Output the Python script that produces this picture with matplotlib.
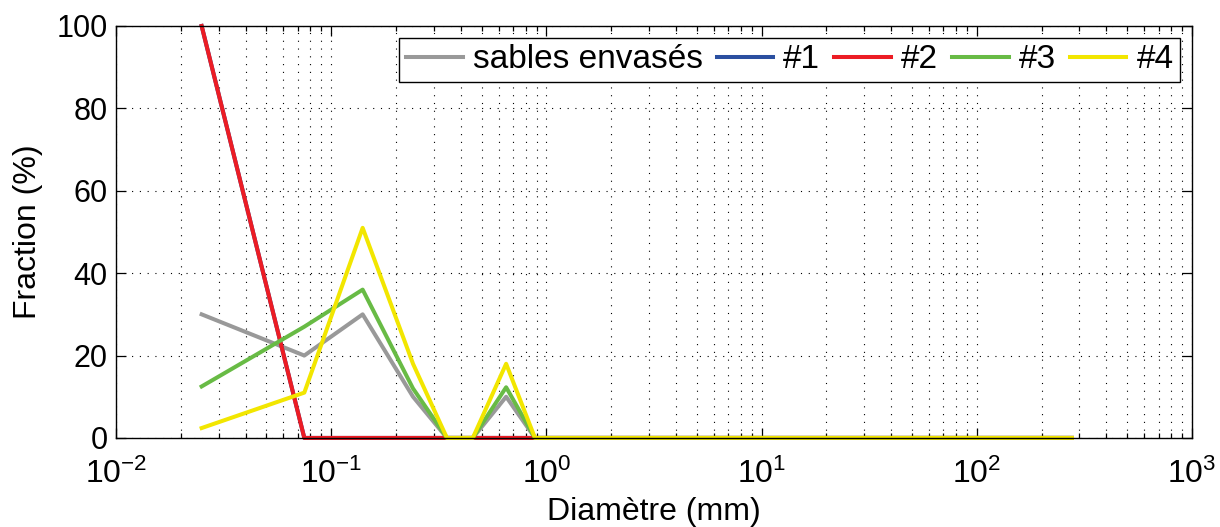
import numpy as np
import matplotlib
matplotlib.use("Agg")
import matplotlib.pyplot as plt
from matplotlib.ticker import LogLocator, FixedLocator, FuncFormatter, NullFormatter

plt.rcParams['font.family'] = ['Liberation Sans', 'DejaVu Sans']
plt.rcParams['mathtext.default'] = 'regular'

# diametres (mm) and fractions (%)
diam = [0.025, 0.075, 0.14, 0.24, 0.345, 0.455, 0.65, 0.885, 277]
sables = [30, 20, 30, 10, 0, 0, 10, 0, 0]
s1 = [100, 0, 0, 0, 0, 0, 0, 0, 0]
s2 = [100, 0, 0, 0, 0, 0, 0, 0, 0]
s3 = [12.5, 27, 36, 12, 0, 0, 12.3, 0, 0]
s4 = [2.4, 11, 51, 18, 0, 0, 18, 0, 0]

names = ['sables envasés', '#1', '#2', '#3', '#4']
colors = ['#999999', '#2B4FA0', '#EC1C24', '#68BB45', '#F2E600']
series = [sables, s1, s2, s3, s4]

fig = plt.figure(figsize=(12.2, 5.27), dpi=100)
ax = fig.add_axes([0.0951, 0.169, 0.8819, 0.7817])

for vals, c, n in zip(series, colors, names):
    ax.plot(diam, vals, color=c, lw=2.9, label=n, clip_on=False)

ax.set_xscale('log')
ax.set_xlim(1e-2, 1e3)
ax.set_ylim(0, 100)
ax.set_yticks([0, 20, 40, 60, 80, 100])
ax.xaxis.set_major_locator(FixedLocator([1e-2, 1e-1, 1, 1e1, 1e2, 1e3]))
ax.xaxis.set_minor_locator(LogLocator(base=10, subs=np.arange(2, 10), numticks=20))
ax.xaxis.set_minor_formatter(NullFormatter())
ax.xaxis.set_major_formatter(FuncFormatter(
    lambda v, p: '$10^{%s}$' % str(int(round(np.log10(v)))).replace('-', '\u2212')))

grid_style = dict(color='k', linestyle=(0, (1, 6)), linewidth=0.8)
ax.grid(True, which='major', axis='both', **grid_style)
ax.grid(True, which='minor', axis='x', **grid_style)

ax.tick_params(which='both', direction='in', top=True, right=True, labelsize=22, width=0.9)
ax.tick_params(which='major', length=7)
ax.tick_params(which='minor', length=3.5)
ax.tick_params(axis='x', pad=15, labelsize=23)
ax.tick_params(axis='y', pad=6)
for sp in ax.spines.values():
    sp.set_linewidth(1.0)

ax.set_xlabel('Diamètre (mm)', fontsize=23, labelpad=5)
ax.set_ylabel('Fraction (%)', fontsize=23, labelpad=10)

leg = ax.legend(loc='upper right', ncol=5, fontsize=24, frameon=True, fancybox=False,
                edgecolor='k', framealpha=1, handlelength=1.7, handletextpad=0.3,
                columnspacing=0.42, borderpad=0.2, borderaxespad=0.35)
leg.get_frame().set_linewidth(1.0)

fig.savefig('out.png', dpi=100)
